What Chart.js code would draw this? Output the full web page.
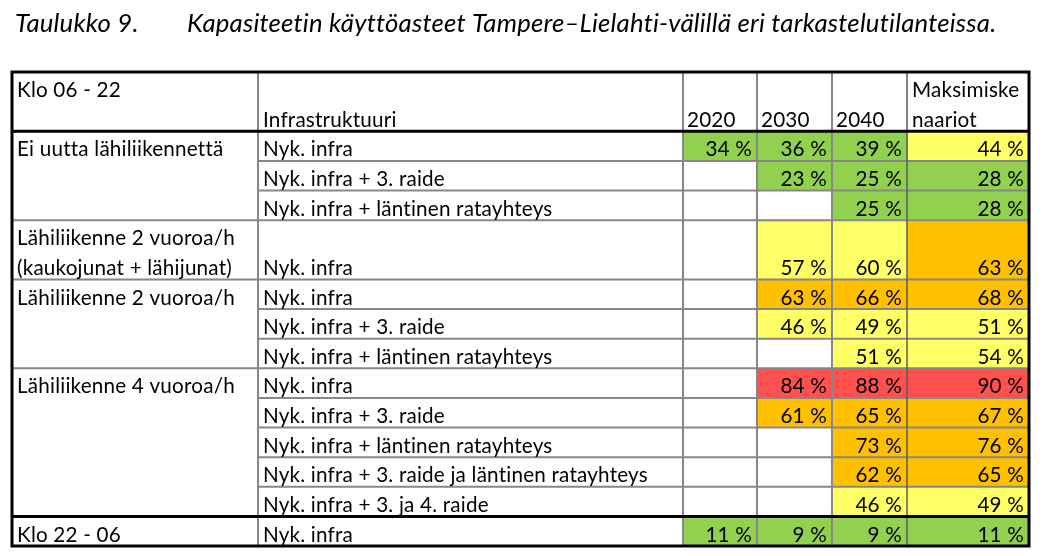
<!DOCTYPE html>
<html>
<head>
<meta charset="utf-8">
<script src="https://cdn.jsdelivr.net/npm/chart.js@4.4.1/dist/chart.umd.min.js"></script>
<style>
  html, body { margin: 0; padding: 0; background: #fff; }
  #wrap { width: 1050px; height: 556px; }
</style>
</head>
<body>
<div id="wrap"><canvas id="taulukko" width="1050" height="556"></canvas></div>
<script>
// otsikko
const otsikkoNro = "Taulukko 9.";
const otsikko = "Kapasiteetin käyttöasteet Tampere–Lielahti-välillä eri tarkastelutilanteissa.";

// sarakkeiden otsikot
const kulmaOtsikko = "Klo 06 - 22";
const infraOtsikko = "Infrastruktuuri";
const vuodet = ["2020", "2030", "2040"];
const maksOtsikko = ["Maksimiske", "naariot"];

// ryhmät (vasen sarake) ja niiden rivimäärät
const ryhmat = [
  ["Ei uutta lähiliikennettä"],
  ["Lähiliikenne 2 vuoroa/h", "(kaukojunat + lähijunat)"],
  ["Lähiliikenne 2 vuoroa/h"],
  ["Lähiliikenne 4 vuoroa/h"],
  ["Klo 22 - 06"],
];
const ryhmaKoot = [3, 1, 3, 5, 1];

// infrastruktuuri-rivit
const infrat = [
  "Nyk. infra",
  "Nyk. infra + 3. raide",
  "Nyk. infra + läntinen ratayhteys",
  "Nyk. infra",
  "Nyk. infra",
  "Nyk. infra + 3. raide",
  "Nyk. infra + läntinen ratayhteys",
  "Nyk. infra",
  "Nyk. infra + 3. raide",
  "Nyk. infra + läntinen ratayhteys",
  "Nyk. infra + 3. raide ja läntinen ratayhteys",
  "Nyk. infra + 3. ja 4. raide",
  "Nyk. infra",
];

// käyttöasteet (%)
const v2020 = [34, null, null, null, null, null, null, null, null, null, null, null, 11];
const v2030 = [36, 23, null, 57, 63, 46, null, 84, 61, null, null, null, 9];
const v2040 = [39, 25, 25, 60, 66, 49, 51, 88, 65, 73, 62, 46, 9];
const vMaks = [44, 28, 28, 63, 68, 51, 54, 90, 67, 76, 65, 49, 11];

// ulkoasu
const riviKorkeudet = [1, 1, 1, 2, 1, 1, 1, 1, 1, 1, 1, 1, 1];
const sarakeRajat = [0, 246, 671, 745, 820, 895, 1017];
const harmaa = "#878787";

function vari(v) {
  if (v < 40) return "#92D050";
  if (v <= 60) return "#FFFF66";
  if (v < 80) return "#FFC000";
  return "#FF5050";
}

// rivipaikat kategoria-akselille
const paikat = ["h0", "h1"];
const riviAlku = [];
infrat.forEach((_, i) => {
  riviAlku.push(paikat.length);
  for (let k = 0; k < riviKorkeudet[i]; k++) paikat.push("r" + i + "_" + k);
});

const sarjat = [v2020, v2030, v2040, vMaks];
const datasets = sarjat.map((sarja, j) => {
  const data = [];
  sarja.forEach((v, i) => {
    if (v === null) return;
    for (let k = 0; k < riviKorkeudet[i]; k++) {
      data.push({ x: [sarakeRajat[j + 2], sarakeRajat[j + 3]], y: paikat[riviAlku[i] + k], v: v });
    }
  });
  return {
    label: j < 3 ? vuodet[j] : maksOtsikko.join(""),
    data: data,
    backgroundColor: (c) => (c.raw ? vari(c.raw.v) : "#fff"),
    borderWidth: 0,
    grouped: false,
    barPercentage: 1,
    categoryPercentage: 1,
  };
});

// ei ligatuureja (ti, tt)
function fontti(ctx, f) {
  ctx.font = f;
  ctx.letterSpacing = "0.2px";
  ctx.textRendering = "optimizeSpeed";
}

function sovita(ctx, teksti, leveys, tyyli) {
  fontti(ctx, tyyli + " 100px Lato");
  return (100 * leveys) / ctx.measureText(teksti).width;
}

const taulukkoPlugin = {
  id: "taulukko",
  afterDatasetsDraw(chart) {
    const ctx = chart.ctx;
    const x = chart.scales.x;
    const y = chart.scales.y;
    const h = Math.abs(y.getPixelForValue(1) - y.getPixelForValue(0));
    const yla = (k) => y.getPixelForValue(k) - h / 2;
    const px = (i) => x.getPixelForValue(sarakeRajat[i]);
    const vasen = px(0), oikea = px(6);
    const top = yla(0), pohja = yla(paikat.length);

    function viiva(x1, y1, x2, y2, vari, lev) {
      ctx.save();
      ctx.strokeStyle = vari;
      ctx.lineWidth = lev;
      ctx.beginPath();
      ctx.moveTo(x1, y1);
      ctx.lineTo(x2, y2);
      ctx.stroke();
      ctx.restore();
    }

    // ryhmärajat
    const ryhmaAlut = [];
    let r = 0;
    ryhmaKoot.forEach((n) => { ryhmaAlut.push(r); r += n; });

    // vaakaviivat
    for (let i = 1; i < infrat.length; i++) {
      const yy = yla(riviAlku[i]);
      const ryhmaRaja = ryhmaAlut.includes(i);
      if (i === ryhmaAlut[ryhmaAlut.length - 1]) continue;
      viiva(ryhmaRaja ? vasen : px(1), yy, oikea, yy, harmaa, 2);
    }
    // pystyviivat
    for (let c = 1; c <= 4; c++) viiva(px(c), top, px(c), pohja, harmaa, 2);
    viiva(px(5), top, px(5), pohja, "#5a5a5a", 1.5);
    // mustat viivat
    viiva(vasen, yla(2), oikea, yla(2), "#000", 3);
    const viimeinen = riviAlku[ryhmaAlut[ryhmaAlut.length - 1]];
    viiva(vasen, yla(viimeinen), oikea, yla(viimeinen), "#000", 3);
    ctx.save();
    ctx.strokeStyle = "#000";
    ctx.lineWidth = 3;
    ctx.strokeRect(vasen, top, oikea - vasen, pohja - top);
    ctx.restore();

    // tekstit
    ctx.save();
    const koko = sovita(ctx, infrat[10], 378, "normal");
    ctx.fillStyle = "#000";
    ctx.textBaseline = "alphabetic";
    fontti(ctx, koko.toFixed(2) + "px Lato");
    const pohjaY = (k) => yla(k + 1) - 4.5;

    ctx.textAlign = "left";
    ctx.fillText(kulmaOtsikko, vasen + 5, pohjaY(0));
    ctx.fillText(infraOtsikko, px(1) + 5, pohjaY(1));
    vuodet.forEach((t, j) => ctx.fillText(t, px(j + 2) + 4, pohjaY(1)));
    ctx.fillText(maksOtsikko[0], px(5) + 5, pohjaY(0));
    ctx.fillText(maksOtsikko[1], px(5) + 5, pohjaY(1));

    ryhmat.forEach((rivit, g) => {
      const alku = riviAlku[ryhmaAlut[g]];
      rivit.forEach((t, k) => ctx.fillText(t, vasen + 5, pohjaY(alku + k)));
    });

    infrat.forEach((t, i) => {
      const k = riviAlku[i] + riviKorkeudet[i] - 1;
      ctx.textAlign = "left";
      ctx.fillText(t, px(1) + 5, pohjaY(k));
      ctx.textAlign = "right";
      sarjat.forEach((sarja, j) => {
        if (sarja[i] !== null) ctx.fillText(sarja[i] + " %", px(j + 3) - 5, pohjaY(k));
      });
    });
    ctx.restore();

    // otsikko
    ctx.save();
    const okoko = sovita(ctx, otsikko, 798, "italic");
    ctx.fillStyle = "#000";
    ctx.textAlign = "left";
    ctx.textBaseline = "alphabetic";
    fontti(ctx, "italic " + okoko.toFixed(2) + "px Lato");
    ctx.fillText(otsikkoNro, 15, 31.5);
    ctx.fillText(otsikko, 187, 31.5);
    ctx.restore();
  },
};

new Chart(document.getElementById("taulukko"), {
  type: "bar",
  data: { labels: paikat, datasets: datasets },
  options: {
    indexAxis: "y",
    responsive: false,
    animation: false,
    layout: { padding: { left: 12, top: 72, right: 21, bottom: 10 } },
    scales: {
      x: { type: "linear", min: 0, max: 1017, display: false },
      y: { type: "category", display: false },
    },
    plugins: {
      legend: { display: false },
      tooltip: { enabled: false },
    },
  },
  plugins: [taulukkoPlugin],
});
</script>
</body>
</html>
